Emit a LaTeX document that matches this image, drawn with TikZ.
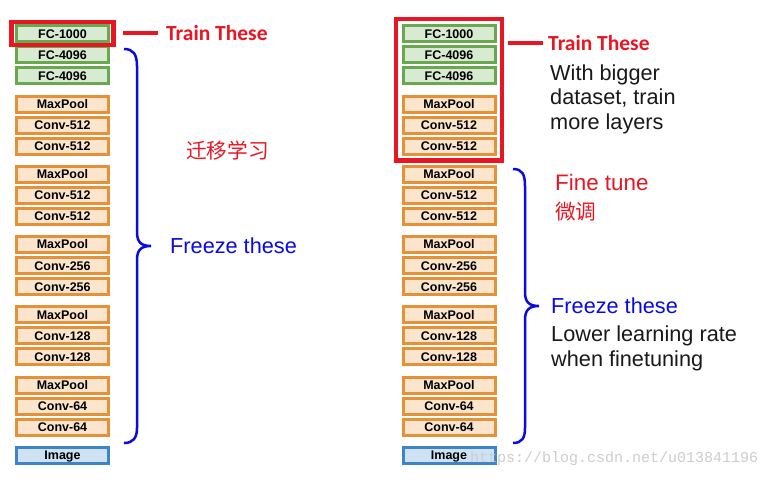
\documentclass[tikz,border=0pt]{standalone}
\usepackage{fontspec}
\setmainfont{Liberation Sans}
\newfontfamily\calfont{Carlito}
\newfontfamily\cjk{Noto Sans CJK SC}
\newfontfamily\wmfont{Liberation Mono}
\usetikzlibrary{fit}
\definecolor{fcfill}{RGB}{217,234,211}
\definecolor{fcdraw}{RGB}{106,168,79}
\definecolor{cvfill}{RGB}{252,229,205}
\definecolor{cvdraw}{RGB}{230,145,56}
\definecolor{imfill}{RGB}{207,226,243}
\definecolor{imdraw}{RGB}{61,133,198}
\definecolor{trainred}{RGB}{232,22,34}
\definecolor{braceblue}{RGB}{10,10,225}
\definecolor{wmgray}{RGB}{205,205,205}
\tikzset{
  layer/.style={rectangle, minimum width=92pt, minimum height=16pt, inner sep=0pt,
    text height=9pt, text depth=0pt,
    line width=3pt, font=\fontsize{12.5}{12.5}\selectfont\bfseries},
  fcbox/.style={layer, draw=fcdraw, fill=fcfill},
  cvbox/.style={layer, draw=cvdraw, fill=cvfill},
  imbox/.style={layer, draw=imdraw, fill=imfill},
  redframe/.style={draw=trainred, line width=4.5pt, rectangle},
  redline/.style={draw=trainred, line width=4pt},
  trainlbl/.style={text=trainred, font=\calfont\fontsize{21.5}{21.5}\selectfont\bfseries, anchor=west, inner sep=0pt},
  bluelbl/.style={text=braceblue, font=\fontsize{21.7}{21.7}\selectfont, anchor=base west, inner sep=0pt},
  blacklbl/.style={text=black!90, font=\fontsize{21.7}{21.7}\selectfont, anchor=base west, inner sep=0pt},
  redlbl/.style={text=trainred, font=\fontsize{22.4}{22.4}\selectfont, anchor=base west, inner sep=0pt},
  cjklbl/.style={text=trainred, font=\cjk\fontsize{20.7}{20.7}\selectfont, anchor=west, inner sep=0pt},
  bracepath/.style={draw=braceblue, line width=2.5pt},
}
\begin{document}
\begin{tikzpicture}[x=1pt,y=-1pt]
\useasboundingbox (0,0) rectangle (777,480);
\fill[white] (0,0) rectangle (777,480);
\foreach \t/\y/\s [count=\i] in {
  FC-1000/33.5/fcbox, FC-4096/54.5/fcbox, FC-4096/75.5/fcbox,
  MaxPool/104/cvbox, Conv-512/125/cvbox, Conv-512/146/cvbox,
  MaxPool/174/cvbox, Conv-512/195/cvbox, Conv-512/216/cvbox,
  MaxPool/244/cvbox, Conv-256/265.5/cvbox, Conv-256/286.5/cvbox,
  MaxPool/314.5/cvbox, Conv-128/335.5/cvbox, Conv-128/356.5/cvbox,
  MaxPool/385/cvbox, Conv-64/406/cvbox, Conv-64/427/cvbox,
  Image/455/imbox} {
  \node[\s] (L\i) at (62.5,\y) {\t};
  \node[\s] (R\i) at (449,\y) {\t};
}
% left side
\node[redframe, fit=(L1), inner xsep=3.5pt, inner ysep=2pt] (LF) {};
\coordinate (LA) at (123,33);
\coordinate (LB) at (158,33);
\draw[redline] (LA) -- (LB);
\node[trainlbl] (LT) at (166,33) {Train These};
\node[cjklbl] (LC) at (186,150.5) {迁移学习};
\node[bluelbl] (LFz) at (170,253) {Freeze these};
\draw[bracepath] (124,49) .. controls (133,49) and (137,54) .. (137,66)
  -- (137,232) .. controls (137,242) and (141,246) .. (151,246)
  .. controls (141,246) and (137,250) .. (137,260)
  -- (137,428) .. controls (137,438) and (133,443) .. (124,443);
% right side
\node[redframe, fit=(R1)(R6), inner xsep=5.5pt, inner ysep=5pt] (RF) {};
\coordinate (RA) at (508,43);
\coordinate (RB) at (543,43);
\draw[redline] (RA) -- (RB);
\node[trainlbl] (RT) at (548,43) {Train These};
\node[blacklbl] (RW1) at (550,80) {With bigger};
\node[blacklbl] (RW2) at (550,104.5) {dataset, train};
\node[blacklbl] (RW3) at (550,129) {more layers};
\node[redlbl] (RFt) at (555,190.5) {Fine tune};
\node[cjklbl] (RC) at (555,211.5) {微调};
\node[bluelbl] (RFz) at (551,313) {Freeze these};
\node[blacklbl] (RL1) at (551,341.5) {Lower learning rate};
\node[blacklbl] (RL2) at (551,366) {when finetuning};
\draw[bracepath] (513,169) .. controls (522,169) and (525,174) .. (525,186)
  -- (525,292) .. controls (525,302) and (529,306) .. (539,306)
  .. controls (529,306) and (525,310) .. (525,320)
  -- (525,428) .. controls (525,438) and (522,443) .. (513,443);
\node[text=wmgray, font=\wmfont\fontsize{15}{15}\selectfont, anchor=west, inner sep=0pt] (WM) at (470,458.5) {https://blog.csdn.net/u013841196};
\end{tikzpicture}
\end{document}
